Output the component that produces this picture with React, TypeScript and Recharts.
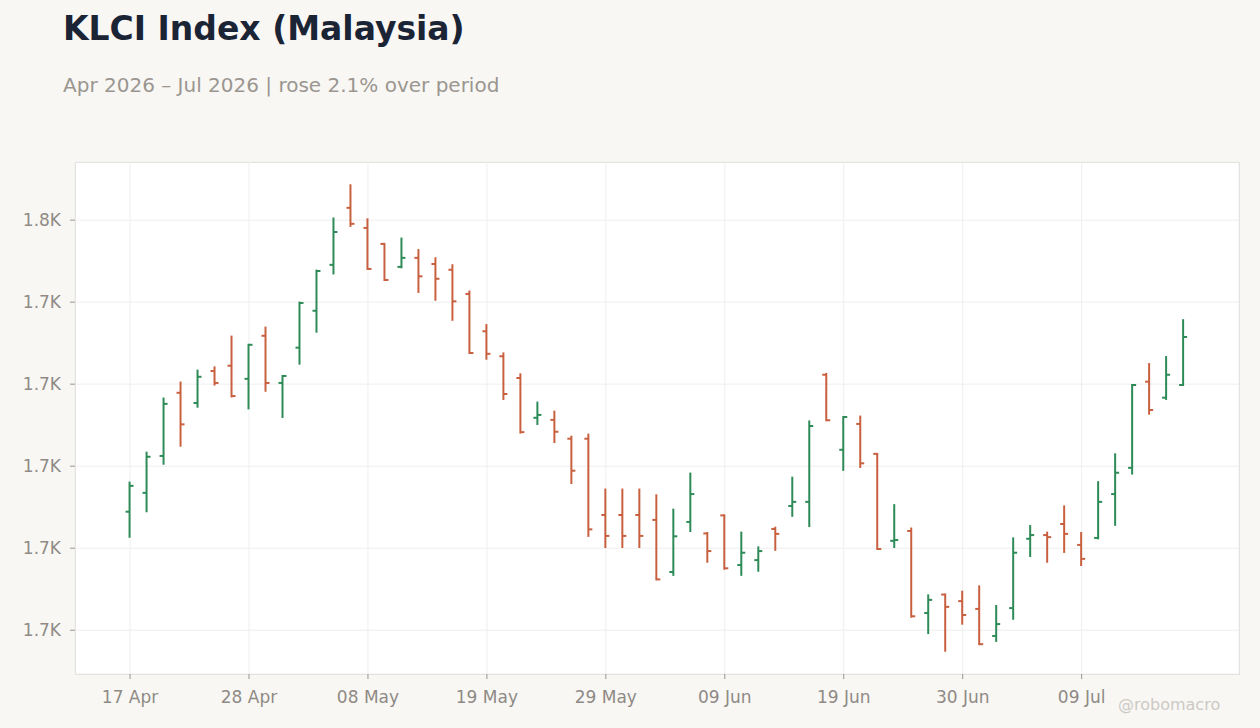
import { ComposedChart, Bar, XAxis, YAxis, CartesianGrid } from "recharts";

// trading days shown on the axis (every 7th is labelled)
const dates = [
  "17 Apr", "20 Apr", "21 Apr", "22 Apr", "23 Apr", "24 Apr", "27 Apr", "28 Apr", "29 Apr", "30 Apr",
  "04 May", "05 May", "06 May", "07 May", "08 May", "11 May", "12 May", "13 May", "14 May", "15 May",
  "18 May", "19 May", "20 May", "21 May", "22 May", "25 May", "26 May", "28 May", "29 May", "01 Jun",
  "02 Jun", "03 Jun", "04 Jun", "05 Jun", "08 Jun", "09 Jun", "10 Jun", "11 Jun", "12 Jun", "15 Jun",
  "16 Jun", "18 Jun", "19 Jun", "22 Jun", "23 Jun", "24 Jun", "25 Jun", "26 Jun", "29 Jun", "30 Jun",
  "01 Jul", "02 Jul", "03 Jul", "06 Jul", "07 Jul", "08 Jul", "09 Jul", "10 Jul", "13 Jul", "14 Jul",
  "15 Jul", "16 Jul", "17 Jul",
];

const opens = [
  1728.9, 1733.5, 1742.5, 1757.9, 1755.4, 1763.2, 1764.5, 1761.3, 1771.8, 1760.3,
  1768.9, 1777.9, 1789.1, 1803.0, 1798.1, 1794.2, 1788.6, 1790.8, 1789.3, 1787.9,
  1782.0, 1772.9, 1766.8, 1761.5, 1751.8, 1751.3, 1746.7, 1746.7, 1728.1, 1728.1,
  1728.1, 1726.9, 1714.2, 1726.4, 1723.6, 1728.0, 1715.9, 1717.1, 1724.7, 1730.3,
  1731.3, 1762.3, 1744.0, 1750.3, 1743.0, 1721.8, 1724.2, 1704.2, 1708.7, 1707.1,
  1705.2, 1698.6, 1705.4, 1722.3, 1723.2, 1725.9, 1720.8, 1722.5, 1733.2, 1739.6,
  1760.6, 1756.7, 1759.8,
];

const highs = [
  1736.0, 1743.3, 1756.5, 1760.4, 1763.3, 1764.1, 1771.6, 1769.6, 1773.8, 1762.0,
  1779.9, 1787.7, 1800.4, 1808.5, 1800.2, 1794.2, 1795.5, 1792.7, 1790.7, 1789.0,
  1782.6, 1774.4, 1767.5, 1762.4, 1755.5, 1753.3, 1747.2, 1747.7, 1734.3, 1734.3,
  1734.3, 1732.9, 1729.4, 1738.2, 1723.7, 1728.0, 1723.8, 1720.2, 1725.0, 1737.2,
  1750.9, 1762.5, 1752.0, 1752.1, 1743.0, 1730.5, 1724.8, 1708.5, 1708.7, 1709.4,
  1710.7, 1705.9, 1722.4, 1725.4, 1723.8, 1730.2, 1723.7, 1736.1, 1742.9, 1759.8,
  1764.9, 1766.6, 1775.6,
];

const lows = [
  1722.8, 1729.0, 1740.6, 1745.0, 1754.5, 1759.9, 1757.0, 1754.1, 1758.4, 1752.0,
  1765.0, 1772.8, 1787.0, 1798.6, 1788.1, 1785.4, 1788.5, 1782.5, 1780.6, 1775.7,
  1767.6, 1766.2, 1756.4, 1748.2, 1750.3, 1745.9, 1735.9, 1723.0, 1720.3, 1720.3,
  1720.3, 1712.4, 1713.5, 1724.2, 1716.7, 1715.0, 1713.5, 1714.5, 1719.6, 1727.9,
  1725.4, 1751.2, 1739.1, 1739.8, 1719.8, 1720.3, 1703.3, 1699.3, 1695.0, 1701.6,
  1696.6, 1697.4, 1702.8, 1718.1, 1716.7, 1719.1, 1715.9, 1722.4, 1725.7, 1738.2,
  1752.8, 1756.4, 1759.8,
];

const closes = [
  1735.2, 1742.3, 1755.2, 1750.2, 1761.8, 1760.3, 1757.1, 1769.6, 1760.3, 1762.0,
  1779.8, 1787.6, 1797.1, 1799.1, 1788.1, 1785.4, 1790.8, 1786.3, 1785.7, 1780.2,
  1767.6, 1767.4, 1757.6, 1748.3, 1752.5, 1748.4, 1738.9, 1724.6, 1723.0, 1723.0,
  1723.0, 1712.4, 1722.9, 1733.2, 1719.3, 1715.1, 1718.9, 1719.3, 1723.5, 1731.3,
  1749.8, 1751.2, 1752.0, 1740.7, 1719.8, 1722.0, 1703.4, 1707.4, 1705.7, 1703.7,
  1696.6, 1701.5, 1718.9, 1723.2, 1722.7, 1723.5, 1717.4, 1731.3, 1738.4, 1759.8,
  1753.7, 1762.3, 1771.5,
];

const xTicks = [0, 7, 14, 21, 28, 35, 42, 49, 56];
const yTicks = [1700, 1720, 1740, 1760, 1780, 1800];

const UP = "#2e8b57";
const DOWN = "#c8603f";
const FONT = "'DejaVu Sans', Verdana, sans-serif";

const data = dates.map((d, i) => ({
  idx: i,
  date: d,
  open: opens[i],
  high: highs[i],
  low: lows[i],
  close: closes[i],
  range: [lows[i], highs[i]],
}));

const lo = Math.min(...lows);
const hi = Math.max(...highs);
const pad = (hi - lo) * 0.05;

const OhlcShape = (props: any) => {
  const { x, y, width, height, payload } = props;
  if (!payload) return null;
  const cx = x + width / 2;
  const span = payload.high - payload.low;
  const toY = (v: number) => (span > 0 ? y + ((payload.high - v) / span) * height : y);
  const color = payload.close >= payload.open ? UP : DOWN;
  return (
    <g stroke={color} strokeWidth={2}>
      <line x1={cx} x2={cx} y1={y - 1} y2={y + height + 1} />
      <line x1={cx - 4} x2={cx} y1={toY(payload.open)} y2={toY(payload.open)} />
      <line x1={cx} x2={cx + 4} y1={toY(payload.close)} y2={toY(payload.close)} />
    </g>
  );
};

export default function App() {
  return (
    <div style={{ position: "relative", width: 1260, height: 728, background: "#f8f7f4", fontFamily: FONT, overflow: "hidden" }}>
      <style>{"body{margin:0}"}</style>
      <div style={{ position: "absolute", left: 63, top: 9, fontSize: 33, fontWeight: 700, color: "#1b2434" }}>
        KLCI Index (Malaysia)
      </div>
      <div style={{ position: "absolute", left: 63, top: 73, fontSize: 20, color: "#9b9690" }}>
        Apr 2026 – Jul 2026 | rose 2.1% over period
      </div>
      <div
        style={{
          position: "absolute",
          left: 75,
          top: 162,
          width: 1163,
          height: 511,
          background: "#ffffff",
          border: "1px solid #ddd8d0",
        }}
      />
      <div style={{ position: "absolute", left: 0, top: 0 }}>
        <ComposedChart width={1260} height={728} data={data} margin={{ top: 162, right: 21, bottom: 0, left: 0 }}>
          <CartesianGrid stroke="#eeeeee" strokeWidth={1} />
          <XAxis
            type="number"
            dataKey="idx"
            domain={[-3.24, 65.26]}
            allowDataOverflow
            ticks={xTicks}
            tickFormatter={(i: number) => dates[i]}
            axisLine={false}
            tickSize={5}
            tickMargin={12}
            tickLine={{ stroke: "#999590" }}
            tick={{ fill: "#8f8a85", fontSize: 17, fontFamily: FONT }}
            height={54}
          />
          <YAxis
            type="number"
            domain={[lo - pad, hi + pad]}
            allowDataOverflow
            ticks={yTicks}
            tickFormatter={(v: number) => (Math.floor(v / 100) / 10).toFixed(1) + "K"}
            axisLine={false}
            tickSize={5}
            tickMargin={9}
            tickLine={{ stroke: "#999590" }}
            tick={{ fill: "#8f8a85", fontSize: 17, fontFamily: FONT }}
            width={75}
          />
          <Bar dataKey="range" barSize={8} shape={OhlcShape} isAnimationActive={false} />
        </ComposedChart>
      </div>
      <div style={{ position: "absolute", left: 1118, top: 695, fontSize: 16, color: "#cdc9c4" }}>@robomacro</div>
    </div>
  );
}
